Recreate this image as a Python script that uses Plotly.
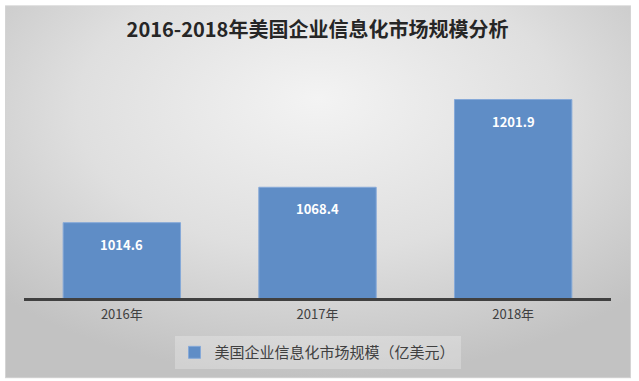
import base64
import plotly.graph_objects as go

categories = ["2016年", "2017年", "2018年"]
values = [1014.6, 1068.4, 1201.9]
series_name = "美国企业信息化市场规模（亿美元）"
title_text = "2016-2018年美国企业信息化市场规模分析"

W, H = 639, 381
ml, mr, mt, mb = 24, 28, 35, 81
pw, ph = W - ml - mr, H - mt - mb

def px_x(p):
    return (p - ml) / pw

def px_y(p):
    return (H - mb - p) / ph

svg = (
    '<svg xmlns="http://www.w3.org/2000/svg" width="626" height="376" '
    'viewBox="0 0 626 376" preserveAspectRatio="none">'
    '<defs><radialGradient id="g" cx="50%" cy="30%" r="70%" fx="50%" fy="25%">'
    '<stop offset="0" stop-color="#f3f3f3"/>'
    '<stop offset="0.55" stop-color="#dfdfdf"/>'
    '<stop offset="1" stop-color="#c2c2c2"/>'
    '</radialGradient></defs>'
    '<rect x="0.5" y="0.5" width="625" height="375" fill="url(#g)" '
    'stroke="#d4d4d4" stroke-width="1"/></svg>'
)
src = "data:image/svg+xml;base64," + base64.b64encode(svg.encode()).decode()

fig = go.Figure()
fig.add_trace(go.Bar(
    x=categories, y=values, name=series_name,
    marker=dict(color="#5f8dc6", line=dict(color="#86a9d8", width=1)),
    hoverinfo="skip", showlegend=True,
))

for c, v in zip(categories, values):
    fig.add_annotation(
        x=c, y=v, text=f"<b>{v:.1f}</b>", showarrow=False,
        yanchor="top", yshift=-10,
        font=dict(family="Noto Sans CJK SC", size=13, color="white"),
    )

fig.update_layout(
    width=W, height=H,
    margin=dict(l=ml, r=mr, t=mt, b=mb, pad=0),
    paper_bgcolor="white", plot_bgcolor="rgba(0,0,0,0)",
    bargap=0.4,
    title=dict(
        text=f"<b>{title_text}</b>", x=0.5, xanchor="center",
        y=1 - 30 / H, yanchor="middle", xref="paper",
        font=dict(family="Noto Sans CJK SC", size=20, color="#262626"),
    ),
    font=dict(family="Noto Sans CJK SC", color="#404040"),
    xaxis=dict(
        showline=True, linecolor="#404040", linewidth=2.5,
        showgrid=False, zeroline=False, ticks="",
        tickfont=dict(size=13, color="#404040"),
        ticklabelstandoff=3,
    ),
    yaxis=dict(
        range=[900, 1300], visible=False, showgrid=False, zeroline=False,
    ),
    legend=dict(
        orientation="h", x=0.5, xanchor="center",
        y=px_y(355), yanchor="middle",
        bgcolor="rgba(255,255,255,0.25)",
        font=dict(size=15, color="#404040"),
    ),
    images=[dict(
        source=src, xref="paper", yref="paper",
        x=px_x(5), y=px_y(5), sizex=px_x(631) - px_x(5), sizey=px_y(5) - px_y(381),
        xanchor="left", yanchor="top", sizing="stretch", layer="below",
    )],
)

fig.write_html(
    "out.html",
    config={"displayModeBar": False},
    post_script="document.body.style.margin='0';document.body.style.overflow='hidden';",
)
